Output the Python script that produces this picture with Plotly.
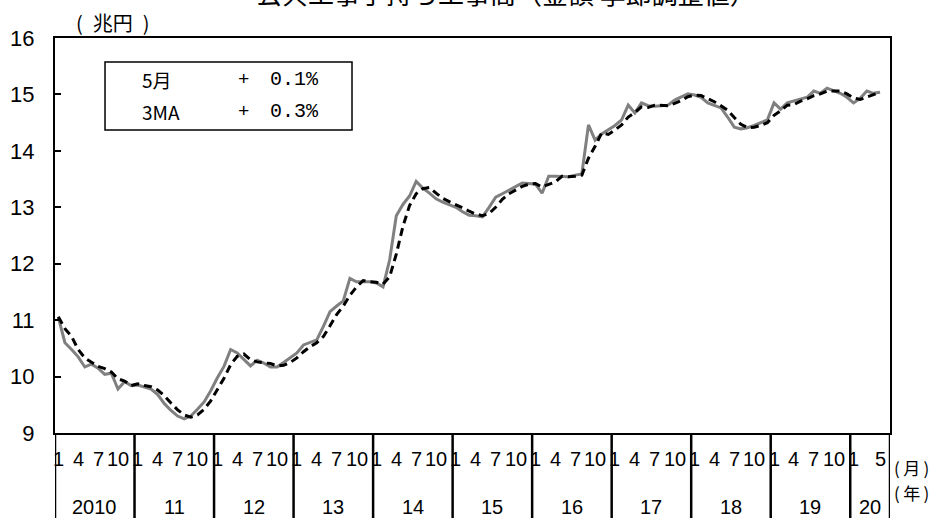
import plotly.graph_objects as go

# ---- data -------------------------------------------------------------
years = list(range(2010, 2021))
year_labels = ["2010", "11", "12", "13", "14", "15", "16", "17", "18", "19", "20"]
month_marks = ["1", "4", "7", "10"]
last_year_marks = ["1", "5"]

# monthly values, Jan 2010 - May 2020 (trillion yen, seasonally adjusted)
holdings = [
    11.05, 10.60, 10.48, 10.35, 10.17, 10.22, 10.15, 10.04, 10.06, 9.78, 9.91, 9.84,
    9.85, 9.82, 9.78, 9.68, 9.52, 9.40, 9.30, 9.25, 9.30, 9.42, 9.55, 9.75,
    9.98, 10.18, 10.48, 10.42, 10.30, 10.19, 10.29, 10.24, 10.17, 10.17, 10.25, 10.33,
    10.42, 10.56, 10.60, 10.65, 10.89, 11.15, 11.25, 11.34, 11.74, 11.68, 11.68, 11.68,
    11.66, 11.59, 12.07, 12.85, 13.05, 13.20, 13.46, 13.34, 13.25, 13.15, 13.09, 13.05,
    13.00, 12.92, 12.86, 12.85, 12.83, 13.00, 13.18, 13.24, 13.30, 13.37, 13.43, 13.42,
    13.41, 13.25, 13.55, 13.55, 13.54, 13.54, 13.57, 13.59, 14.46, 14.19, 14.30, 14.37,
    14.45, 14.55, 14.81, 14.67, 14.85, 14.80, 14.79, 14.80, 14.81, 14.90, 14.96, 15.01,
    14.99, 14.95, 14.85, 14.80, 14.76, 14.60, 14.42, 14.39, 14.41, 14.45, 14.50, 14.55,
    14.85, 14.74, 14.85, 14.88, 14.92, 14.95, 15.06, 15.02, 15.11, 15.06, 15.02, 14.95,
    14.85, 14.93, 15.06, 15.02, 15.04,
]

# 3-month moving average
ma3 = [
    11.06, 10.85, 10.71, 10.48, 10.33, 10.25, 10.18, 10.14, 10.08, 9.96, 9.92, 9.84,
    9.87, 9.84, 9.82, 9.76, 9.66, 9.53, 9.41, 9.32, 9.28, 9.32, 9.42, 9.57,
    9.76, 9.97, 10.21, 10.36, 10.40, 10.30, 10.26, 10.24, 10.23, 10.19, 10.20, 10.25,
    10.33, 10.44, 10.53, 10.60, 10.71, 10.90, 11.10, 11.25, 11.44, 11.59, 11.70, 11.68,
    11.67, 11.64, 11.77, 12.17, 12.66, 13.03, 13.24, 13.33, 13.35, 13.25, 13.16, 13.10,
    13.05, 12.99, 12.93, 12.88, 12.85, 12.89, 13.00, 13.14, 13.24, 13.30, 13.37, 13.41,
    13.42, 13.36, 13.40, 13.45, 13.55, 13.54, 13.55, 13.57, 13.87, 14.08, 14.32, 14.29,
    14.37, 14.46, 14.60, 14.68, 14.78, 14.77, 14.81, 14.80, 14.80, 14.84, 14.89, 14.96,
    14.99, 14.98, 14.93, 14.87, 14.80, 14.72, 14.59, 14.47, 14.41, 14.42, 14.45, 14.50,
    14.63, 14.71, 14.81, 14.82, 14.88, 14.92, 14.98, 15.01, 15.06, 15.06, 15.06, 15.01,
    14.94, 14.91, 14.95, 15.00, 15.04,
]

box_rows = [("5月", "+", "0.1%"), ("3MA", "+", "0.3%")]

title_text = "公共工事手持ち工事高（金額 季節調整値）"
unit_text = "(\u2002兆円\u2002)"
month_unit = "(\u2009月\u2009)"
year_unit = "(\u2009年\u2009)"

# ---- categories ------------------------------------------------------
cats = [f"{y}/{m}" for y in years for m in range(1, 13)]
n_cat = 126  # axis shows one empty month after May 2020
x_vals = cats[:len(holdings)]

JP = "Noto Sans CJK JP"
NUM = "Liberation Sans"

fig = go.Figure()
fig.add_trace(go.Scatter(x=x_vals, y=holdings, mode="lines",
                         line=dict(color="#808080", width=3),
                         showlegend=False, hoverinfo="skip"))
fig.add_trace(go.Scatter(x=x_vals, y=ma3, mode="lines",
                         line=dict(color="black", width=3, dash="8px,5px"),
                         showlegend=False, hoverinfo="skip"))

annotations = []
shapes = []

# month labels and year labels
for k, yl in enumerate(year_labels):
    start = 12 * k
    marks = month_marks if k < len(year_labels) - 1 else last_year_marks
    for mk in marks:
        annotations.append(dict(x=start + int(mk) - 1, y=-0.067, xref="x", yref="paper",
                                text=mk, showarrow=False, xanchor="center", yanchor="middle",
                                font=dict(family=NUM, size=20, color="black")))
    end = min(start + 12, n_cat)
    annotations.append(dict(x=(start + end - 1) / 2, y=-0.187, xref="x", yref="paper",
                            text=yl, showarrow=False, xanchor="center", yanchor="middle",
                            font=dict(family=NUM, size=20, color="black")))
    shapes.append(dict(type="line", xref="x", yref="paper", x0=start - 0.5, x1=start - 0.5,
                       y0=0, y1=-0.22, line=dict(color="black", width=2.5)))
shapes.append(dict(type="line", xref="x", yref="paper", x0=n_cat - 0.5, x1=n_cat - 0.5,
                   y0=0, y1=-0.22, line=dict(color="black", width=2.5)))

annotations.append(dict(x=1.002, y=-0.088, xref="paper", yref="paper", text=month_unit,
                        showarrow=False, xanchor="left", yanchor="middle",
                        font=dict(family=JP, size=17, color="black")))
annotations.append(dict(x=1.002, y=-0.150, xref="paper", yref="paper", text=year_unit,
                        showarrow=False, xanchor="left", yanchor="middle",
                        font=dict(family=JP, size=17, color="black")))

# unit label and title
annotations.append(dict(x=0.0695, y=1.0405, xref="paper", yref="paper", text=unit_text,
                        showarrow=False, xanchor="center", yanchor="middle",
                        font=dict(family=JP, size=20, color="black")))
annotations.append(dict(x=0.54, y=1.116, xref="paper", yref="paper", text=title_text,
                        showarrow=False, xanchor="center", yanchor="middle",
                        font=dict(family=JP, size=26, color="black")))

# info box
shapes.append(dict(type="rect", xref="paper", yref="paper", x0=0.0599, x1=0.3557,
                   y0=0.767, y1=0.939, line=dict(color="black", width=1.5),
                   fillcolor="white"))
row_y = [0.894, 0.813]
for (lab, sign, val), yy in zip(box_rows, row_y):
    annotations.append(dict(x=0.1018, y=yy, xref="paper", yref="paper", text=lab,
                            showarrow=False, xanchor="left", yanchor="middle",
                            font=dict(family=JP, size=19, color="black")))
    annotations.append(dict(x=0.2263, y=yy, xref="paper", yref="paper", text=sign,
                            showarrow=False, xanchor="center", yanchor="middle",
                            font=dict(family="Liberation Mono", size=19, color="black")))
    annotations.append(dict(x=0.2551, y=yy, xref="paper", yref="paper", text=val,
                            showarrow=False, xanchor="left", yanchor="middle",
                            font=dict(family="Liberation Mono", size=20, color="black")))

fig.update_layout(
    width=937, height=518,
    margin=dict(l=55, r=47, t=38, b=85, autoexpand=False),
    paper_bgcolor="white", plot_bgcolor="white",
    annotations=annotations, shapes=shapes,
    xaxis=dict(type="category", categoryorder="array", categoryarray=cats[:n_cat],
               range=[-0.5, n_cat - 0.5], showline=True, linecolor="black", linewidth=2,
               mirror=True, showticklabels=False, ticks="", showgrid=False,
               zeroline=False, automargin=False),
    yaxis=dict(range=[9, 16], tick0=9, dtick=1, ticks="inside", ticklen=6, tickwidth=2,
               tickcolor="black", showline=True, linecolor="black", linewidth=2,
               mirror=True, showgrid=False, zeroline=False, automargin=False,
               ticklabelstandoff=14,
               tickfont=dict(family=NUM, size=22, color="black")),
)

fig.write_html("out.html", config={"displayModeBar": False},
               post_script="document.body.style.margin='0';document.body.style.padding='0';")
